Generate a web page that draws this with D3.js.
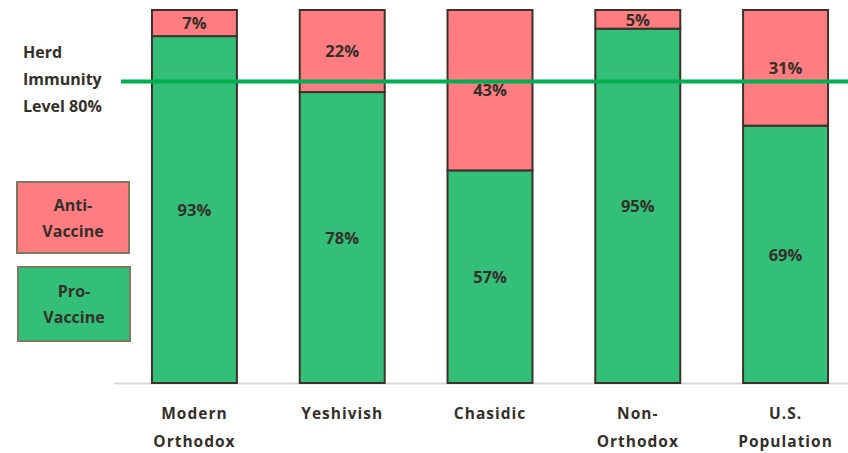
<!DOCTYPE html>
<html>
<head>
<meta charset="utf-8">
<script src="https://cdn.jsdelivr.net/npm/d3@7"></script>
<style>
  body { margin: 0; background: #fff; }
  text { font-family: "Open Sans", "DejaVu Sans", sans-serif; font-weight: 700; fill: #333029; }
</style>
</head>
<body>
<script>
const width = 848;
const height = 453;

// data
const groups = ["Modern Orthodox", "Yeshivish", "Chasidic", "Non-Orthodox", "U.S. Population"];
const groupLines = [["Modern", "Orthodox"], ["Yeshivish"], ["Chasidic"], ["Non-", "Orthodox"], ["U.S.", "Population"]];
const proVaccine = [93, 78, 57, 95, 69];
const antiVaccine = [7, 22, 43, 5, 31];
const herdLevel = 80;

const pink = "#ff7c80";
const green = "#33bf78";
const edge = "#3a322b";

const svg = d3.select("body").append("svg")
    .attr("width", width)
    .attr("height", height);

const x = d3.scaleBand()
    .domain(groups)
    .range([115, 865])
    .paddingInner(0.425)
    .paddingOuter(0.25);

const y = d3.scaleLinear()
    .domain([0, 100])
    .range([383, 10]);

// baseline
svg.append("line")
    .attr("x1", 114).attr("x2", width)
    .attr("y1", y(0) + 0.5).attr("y2", y(0) + 0.5)
    .attr("stroke", "#d9d9d9")
    .attr("stroke-width", 2);

const rows = groups.map((g, i) => ({ g: g, pro: proVaccine[i], anti: antiVaccine[i] }));

const bars = svg.append("g").selectAll("g")
    .data(rows)
    .join("g");

bars.append("rect")
    .attr("x", d => x(d.g))
    .attr("width", x.bandwidth())
    .attr("y", d => y(d.pro))
    .attr("height", d => y(0) - y(d.pro))
    .attr("fill", green)
    .attr("stroke", edge)
    .attr("stroke-width", 2);

bars.append("rect")
    .attr("x", d => x(d.g))
    .attr("width", x.bandwidth())
    .attr("y", d => y(d.pro + d.anti))
    .attr("height", d => y(d.pro) - y(d.pro + d.anti))
    .attr("fill", pink)
    .attr("stroke", edge)
    .attr("stroke-width", 2);

bars.append("text")
    .attr("x", d => x(d.g) + x.bandwidth() / 2)
    .attr("y", d => (y(0) + y(d.pro)) / 2)
    .attr("dy", "0.38em")
    .attr("text-anchor", "middle")
    .attr("font-size", 16.5)
    .text(d => d.pro + "%");

bars.append("text")
    .attr("x", d => x(d.g) + x.bandwidth() / 2)
    .attr("y", d => (y(d.pro) + y(d.pro + d.anti)) / 2)
    .attr("dy", "0.38em")
    .attr("text-anchor", "middle")
    .attr("font-size", 16.5)
    .text(d => d.anti + "%");

// herd immunity line
svg.append("line")
    .attr("x1", 121).attr("x2", width)
    .attr("y1", y(herdLevel) - 3).attr("y2", y(herdLevel) - 3)
    .attr("stroke", "#00b050")
    .attr("stroke-width", 4);

const herd = svg.append("text")
    .attr("x", 23)
    .attr("y", 58)
    .attr("font-size", 16);
["Herd", "Immunity", "Level 80%"].forEach((t, i) => {
    herd.append("tspan").attr("x", 23).attr("dy", i === 0 ? 0 : 27).text(t);
});

// category labels
groupLines.forEach((lines, i) => {
    const t = svg.append("text")
        .attr("x", x(groups[i]) + x.bandwidth() / 2)
        .attr("y", 419)
        .attr("text-anchor", "middle")
        .attr("font-size", 15.5)
        .attr("letter-spacing", 1);
    lines.forEach((l, j) => {
        t.append("tspan")
            .attr("x", x(groups[i]) + x.bandwidth() / 2)
            .attr("dy", j === 0 ? 0 : 28)
            .text(l);
    });
});

// legend boxes
const legend = [
    { label: ["Anti-", "Vaccine"], color: pink, x: 17, y: 182, h: 71 },
    { label: ["Pro-", "Vaccine"], color: green, x: 18, y: 267, h: 74 }
];
legend.forEach(d => {
    svg.append("rect")
        .attr("x", d.x).attr("y", d.y)
        .attr("width", 112).attr("height", d.h)
        .attr("fill", d.color)
        .attr("stroke", "#7d7a62")
        .attr("stroke-width", 2);
    const t = svg.append("text")
        .attr("x", d.x + 56)
        .attr("y", d.y + d.h / 2 - 13 + 6)
        .attr("text-anchor", "middle")
        .attr("font-size", 16);
    d.label.forEach((l, j) => {
        t.append("tspan").attr("x", d.x + 56).attr("dy", j === 0 ? 0 : 26).text(l);
    });
});
</script>
</body>
</html>
